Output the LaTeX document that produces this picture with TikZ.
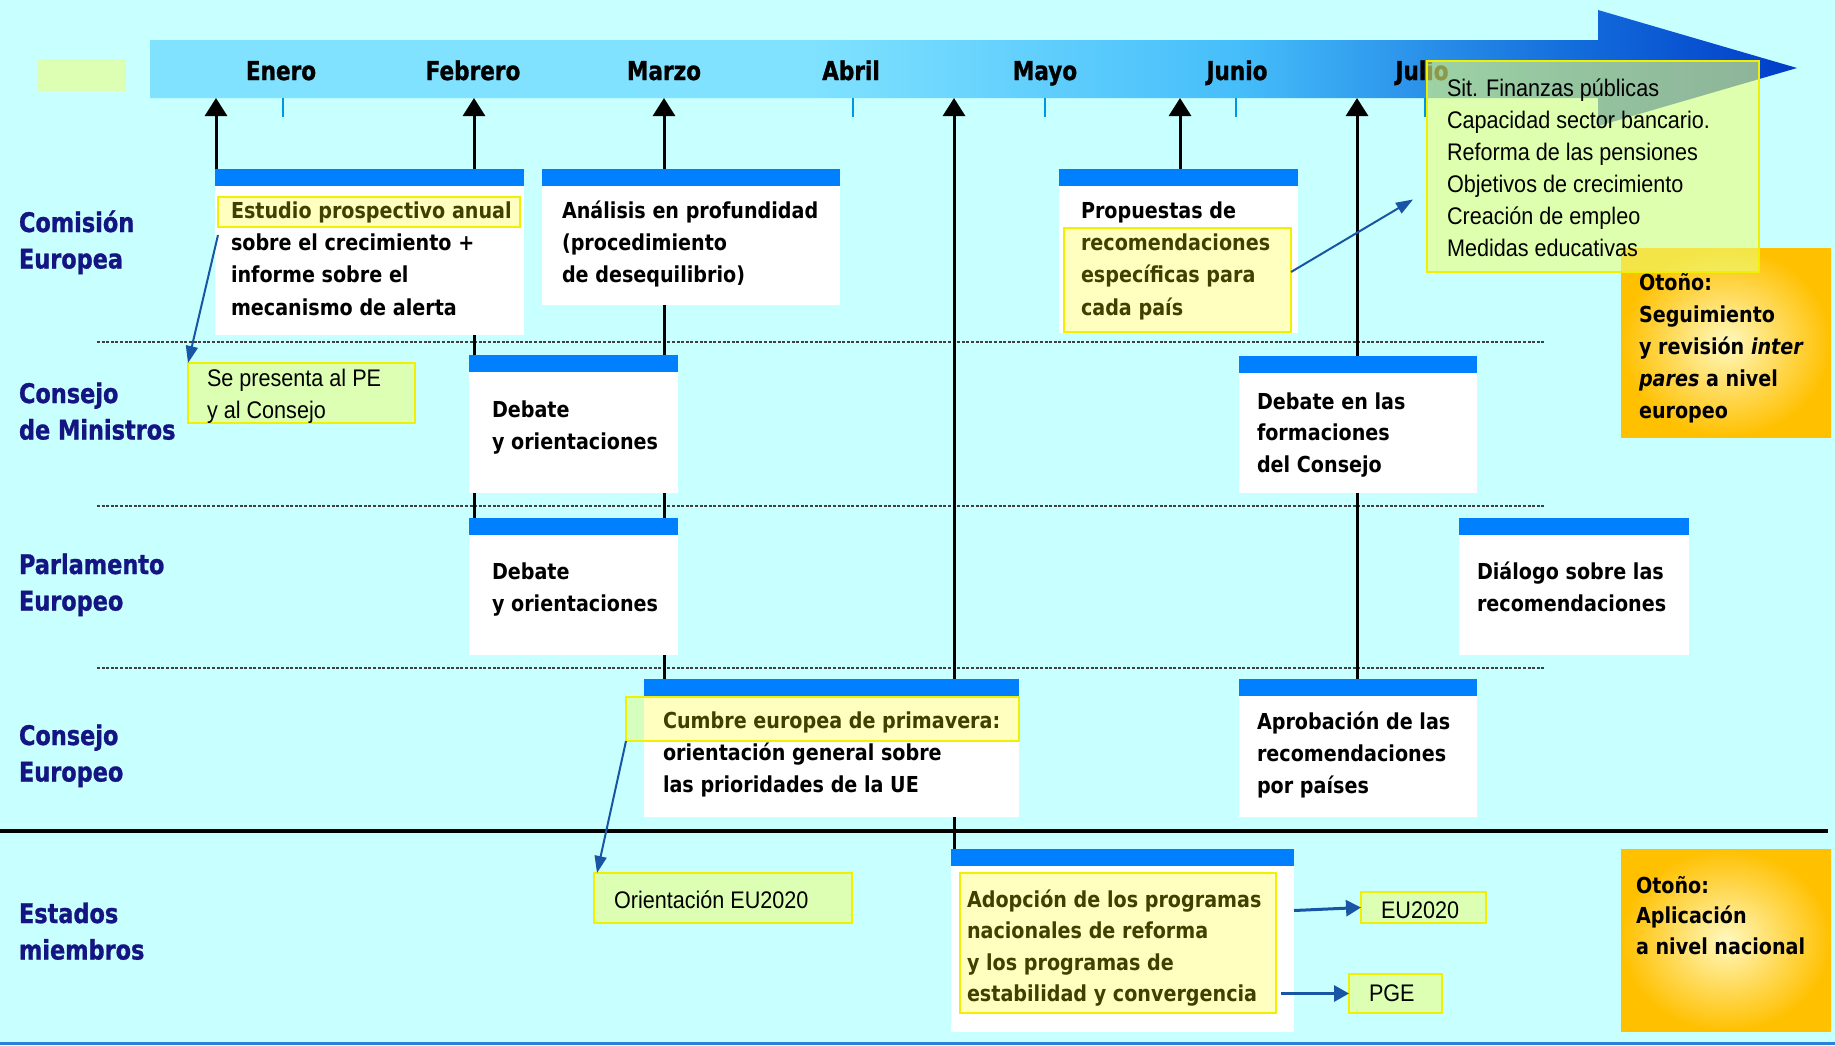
\documentclass[tikz,border=0pt]{standalone}
\usepackage{fontspec}
\usetikzlibrary{arrows.meta,calc}
\newfontfamily\dvtext{DejaVu Sans}[FakeStretch=0.87]
\newfontfamily\dvhead{DejaVu Sans}[FakeStretch=0.83,FakeBold=1]
\newfontfamily\libtxt{Liberation Sans}[FakeStretch=0.9]
\definecolor{bgc}{RGB}{200,255,255}
\definecolor{barblue}{RGB}{0,128,255}
\definecolor{navy}{RGB}{20,20,130}
\definecolor{hlyellow}{RGB}{255,255,0}
\definecolor{hlborder}{RGB}{240,240,0}
\definecolor{gbfill}{RGB}{235,255,120}
\definecolor{greenC}{RGB}{220,255,180}
\definecolor{arrowblue}{RGB}{25,85,165}
\definecolor{tickblue}{RGB}{0,150,230}
\definecolor{bottomblue}{RGB}{40,130,220}
\definecolor{bandL}{RGB}{128,226,255}
\definecolor{bandM}{RGB}{70,190,250}
\definecolor{bandN}{RGB}{20,110,220}
\definecolor{bandD}{RGB}{0,60,200}
\definecolor{otoIn}{RGB}{255,248,190}
\definecolor{otoOut}{RGB}{255,192,0}
\pgfdeclarelayer{bg}
\pgfsetlayers{bg,main}
\pgfdeclarehorizontalshading{bandshade}{100bp}{color(0bp)=(bandL); color(25bp)=(bandL); color(45bp)=(bandL); color(58bp)=(bandM); color(68bp)=(bandN); color(75bp)=(bandD); color(100bp)=(bandD)}
\newcommand\firstrule[1]{\rule{0pt}{#1pt}}
\begin{document}
\begin{tikzpicture}[x=1pt,y=-1pt,
  cbox/.style={rectangle, anchor=north west, inner sep=0pt, outer sep=0pt, fill=white,
    path picture={\fill[barblue] (path picture bounding box.north west) rectangle ([yshift=-17pt]path picture bounding box.north east);}},
  hl/.style={rectangle, anchor=north west, inner sep=0pt, outer sep=0pt, fill=hlyellow, fill opacity=0.25, draw=hlborder, draw opacity=1, line width=1.5pt},
  gbox/.style={rectangle, anchor=north west, inner sep=0pt, outer sep=0pt, fill=greenC, draw=hlborder, line width=1.5pt},
  oto/.style={rectangle, anchor=north west, inner sep=0pt, outer sep=0pt, inner color=otoIn, outer color=otoOut},
  boxtxt/.style={anchor=north west, inner sep=0pt, outer sep=0pt, align=left, text=black, font=\dvtext\bfseries\fontsize{22}{32.4}\selectfont},
  lbl/.style={anchor=north west, inner sep=0pt, outer sep=0pt, align=left, text=navy, font=\dvhead\bfseries\fontsize{27}{36.5}\selectfont},
  month/.style={anchor=base, inner sep=0pt, outer sep=0pt, text=black, font=\dvhead\bfseries\fontsize{26}{30}\selectfont},
  ltxt/.style={anchor=north west, inner sep=0pt, outer sep=0pt, align=left, text=black, font=\libtxt\fontsize{24}{32.1}\selectfont},
  lone/.style={anchor=base west, inner sep=0pt, outer sep=0pt, text=black, font=\libtxt\fontsize{24}{30}\selectfont},
  link/.style={line width=3pt, black},
  uparrow/.style={link, -{Triangle[width=22pt,length=18pt]}},
  dotline/.style={line width=2.5pt, black!75, dash pattern=on 3pt off 1.6pt},
  barrow/.style={draw=arrowblue, line width=2pt, -{Triangle[width=12pt,length=17pt]}},
  barrowthick/.style={draw=arrowblue, line width=3pt, -{Triangle[width=16pt,length=15pt]}}
]
\useasboundingbox (0,0) rectangle (1835,1045);

\begin{pgfonlayer}{bg}
\fill[bgc] (0,0) rectangle (1835,1045);
\draw[line width=3pt, bottomblue] (0,1043) -- (1835,1043);
\draw[line width=3.5pt, black] (0,831) -- (1828,831);
\foreach \yy in {342,506,668} \draw[dotline] (97,\yy) -- (1545,\yy);
\shade[shading=bandshade] (150,40) -- (1598,40) -- (1598,10) -- (1797,68) -- (1598,126) -- (1598,98) -- (150,98) -- cycle;
\foreach \xx in {283,853,1045,1236,1425} \draw[tickblue, line width=2pt] (\xx,98) -- (\xx,117);
\end{pgfonlayer}

% legend swatch
\node[rectangle, anchor=north west, inner sep=0pt, fill=greenC, minimum width=89pt, minimum height=32pt] (leg) at (37,59) {};

% months
\node[month] (mEne) at (281,80) {Enero};
\node[month] (mFeb) at (473,80) {Febrero};
\node[month] (mMar) at (664,80) {Marzo};
\node[month] (mAbr) at (851,80) {Abril};
\node[month] (mMay) at (1045,80) {Mayo};
\node[month] (mJun) at (1237,80) {Junio};
\node[month] (mJul) at (1422,80) {Julio};

% band end points of the vertical arrows
\coordinate (eEne) at (216,98);
\coordinate (eFeb) at (474,98);
\coordinate (eMar) at (664,98);
\coordinate (eMay) at (954,98);
\coordinate (eJun) at (1180,98);
\coordinate (eJul) at (1357,98);

% row labels
\node[lbl] (lCE) at (19,202) {\firstrule{30}Comisión\\Europea};
\node[lbl] (lCM) at (19,373) {\firstrule{30}Consejo\\de Ministros};
\node[lbl] (lPE) at (19,544) {\firstrule{30}Parlamento\\Europeo};
\node[lbl] (lCEu) at (19,715) {\firstrule{30}Consejo\\Europeo};
\node[lbl] (lEM) at (19,893) {\firstrule{30}Estados\\miembros};

% boxes
\node[cbox, minimum width=309pt, minimum height=166pt] (b1) at (215,169) {};
\node[cbox, minimum width=298pt, minimum height=136pt] (b2) at (542,169) {};
\node[cbox, minimum width=239pt, minimum height=164pt] (b6) at (1059,169) {};
\node[cbox, minimum width=209pt, minimum height=138pt] (b3) at (469,355) {};
\node[cbox, minimum width=238pt, minimum height=137pt] (b7) at (1239,356) {};
\node[cbox, minimum width=209pt, minimum height=137pt] (b4) at (469,518) {};
\node[cbox, minimum width=230pt, minimum height=137pt] (b8) at (1459,518) {};
\node[cbox, minimum width=375pt, minimum height=138pt] (b5) at (644,679) {};
\node[cbox, minimum width=238pt, minimum height=138pt] (b9) at (1239,679) {};
\node[cbox, minimum width=343pt, minimum height=183pt] (b10) at (951,849) {};
\node[oto, minimum width=210pt, minimum height=189pt] (o1) at (1621,248) {};
\node[oto, minimum width=210pt, minimum height=182pt] (o2) at (1621,849) {};

% black connectors
\begin{pgfonlayer}{bg}
\draw[uparrow] (b1.north -| eEne) -- (eEne);
\draw[uparrow] (b1.north -| eFeb) -- (eFeb);
\draw[uparrow] (b2.north -| eMar) -- (eMar);
\draw[uparrow] (b10.north -| eMay) -- (eMay);
\draw[uparrow] (b6.north -| eJun) -- (eJun);
\draw[uparrow] (b7.north -| eJul) -- (eJul);
\draw[link] (b1.south -| eFeb) -- (b3.north -| eFeb);
\draw[link] (b2.south -| eMar) -- (b3.north -| eMar);
\draw[link] (b3.south -| eFeb) -- (b4.north -| eFeb);
\draw[link] (b3.south -| eMar) -- (b4.north -| eMar);
\draw[link] (b4.south -| eMar) -- (b5.north -| eMar);
\draw[link] (b7.south -| eJul) -- (b9.north -| eJul);
\end{pgfonlayer}

% box texts
\node[boxtxt] (t1) at (231,194) {\firstrule{24}Estudio prospectivo anual\\sobre el crecimiento +\\informe sobre el\\mecanismo de alerta};
\node[boxtxt] (t2) at (562,194) {\firstrule{24}Análisis en profundidad\\(procedimiento\\de desequilibrio)};
\node[boxtxt] (t6) at (1081,194) {\firstrule{24}Propuestas de\\recomendaciones\\específicas para\\cada país};
\node[boxtxt] (t3) at (492,393) {\firstrule{24}Debate\\y orientaciones};
\node[boxtxt] (t4) at (492,555) {\firstrule{24}Debate\\y orientaciones};
\node[boxtxt] (t5) at (663,704) {\firstrule{24}Cumbre europea de primavera:\\orientación general sobre\\las prioridades de la UE};
\node[boxtxt, font=\dvtext\bfseries\fontsize{22}{31.7}\selectfont] (t7) at (1257,385) {\firstrule{24}Debate en las\\formaciones\\del Consejo};
\node[boxtxt] (t8) at (1477,555) {\firstrule{24}Diálogo sobre las\\recomendaciones};
\node[boxtxt] (t9) at (1257,705) {\firstrule{24}Aprobación de las\\recomendaciones\\por países};
\node[boxtxt, font=\dvtext\bfseries\fontsize{22}{31.5}\selectfont] (t10) at (967,883) {\firstrule{24}Adopción de los programas\\nacionales de reforma\\y los programas de\\estabilidad y convergencia};
\node[boxtxt, font=\dvtext\bfseries\fontsize{22}{32}\selectfont] (to1) at (1639,266) {\firstrule{24}Otoño:\\Seguimiento\\y revisión \textit{inter}\\\textit{pares} a nivel\\europeo};
\node[boxtxt, font=\dvtext\bfseries\fontsize{22}{30.5}\selectfont] (to2) at (1636,869) {\firstrule{24}Otoño:\\Aplicación\\a nivel nacional};

% highlights
\node[hl, minimum width=302pt, minimum height=30pt] (hlE) at (218,197) {};
\node[hl, minimum width=227pt, minimum height=104pt] (hlP) at (1064,228) {};
\node[hl, minimum width=393pt, minimum height=44pt] (hlC) at (626,697) {};
\node[hl, minimum width=316pt, minimum height=140pt] (hlA) at (960,873) {};

% green note boxes
\node[gbox, fill=gbfill, fill opacity=0.6, draw opacity=1, minimum width=332pt, minimum height=211pt] (gb) at (1427,61) {};
\node[ltxt] (gbt) at (1447,72) {\firstrule{24}Sit. Finanzas públicas\\Capacidad sector bancario.\\Reforma de las pensiones\\Objetivos de crecimiento\\Creación de empleo\\Medidas educativas};
\node[gbox, minimum width=227pt, minimum height=60pt] (sp) at (188,363) {};
\node[ltxt] (spt) at (207,362) {\firstrule{24}Se presenta al PE\\y al Consejo};
\node[gbox, minimum width=258pt, minimum height=50pt] (oe) at (594,873) {};
\node[lone] (oet) at (614,908) {Orientación EU2020};
\node[gbox, minimum width=125pt, minimum height=31pt] (eu) at (1361,892) {};
\node[lone] (eut) at (1381,918) {EU2020};
\node[gbox, minimum width=93pt, minimum height=39pt] (pge) at (1349,974) {};
\node[lone] (pget) at (1369,1001) {PGE};

% blue arrows
\draw[barrow] ([yshift=-8pt]hlE.south west) -- (sp.north west);
\draw[barrow] ([yshift=8pt]hlP.east) -- ([shift={(-14,33)}]gb.west);
\draw[barrow] (hlC.south west) -- ([xshift=3pt]oe.north west);
\draw[barrowthick] ($(b10.east |- eu.west)+(0,3)$) -- (eu.west);
\draw[barrowthick] ($(hlA.east |- pge.west)+(5,0)$) -- (pge.west);
\end{tikzpicture}
\end{document}
